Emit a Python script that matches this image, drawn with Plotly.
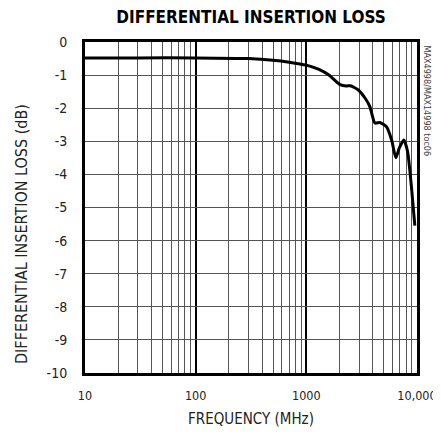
import plotly.graph_objects as go

freq_mhz = [10, 30, 100, 300, 500, 700, 1000, 1300, 1600, 2000, 2300, 2500, 2950, 3400, 3750, 4170, 4620, 5300, 5900, 6440, 6920, 7600, 8210, 8920, 9560]
loss_db = [-0.48, -0.48, -0.48, -0.5, -0.55, -0.61, -0.7, -0.83, -1.0, -1.28, -1.33, -1.32, -1.45, -1.7, -1.95, -2.45, -2.43, -2.56, -2.96, -3.5, -3.2, -2.96, -3.3, -4.4, -5.55]

x_major = [10, 100, 1000, 10000]
x_major_text = ["10", "100", "1000", "10,000"]
x_minor = [m * d for d in (10, 100, 1000) for m in range(2, 10)]
y_ticks = list(range(0, -11, -1))
y_text = [str(v) for v in y_ticks]

font_txt = "DejaVu Sans Condensed, Liberation Sans Narrow, Liberation Sans, sans-serif"

fig = go.Figure()
fig.add_trace(go.Scatter(x=freq_mhz, y=loss_db, mode="lines",
                         line=dict(color="black", width=3, shape="spline", smoothing=0.6),
                         showlegend=False, hoverinfo="skip"))

# page body has an 8px margin, so the figure is 8px smaller and offset
fig.update_layout(
    width=433, height=429,
    margin=dict(l=77, r=24, t=34, b=64, autoexpand=False),
    paper_bgcolor="white", plot_bgcolor="white",
    font=dict(family=font_txt, size=13, color="#222"),
    title=dict(text="<b>DIFFERENTIAL INSERTION LOSS</b>", xref="paper", x=0.5, xanchor="center",
               yref="container", y=0.978, yanchor="middle",
               font=dict(family="DejaVu Sans Condensed, Liberation Sans Narrow, sans-serif", size=17, color="black")),
)
fig.update_xaxes(type="log", range=[1, 4], tickvals=x_major, ticktext=x_major_text,
                 showgrid=True, gridcolor="black", gridwidth=1.6,
                 minor=dict(tickvals=x_minor, showgrid=True, gridcolor="#555", gridwidth=1, ticks=""),
                 showline=True, linecolor="black", linewidth=3, mirror=True,
                 ticks="", ticklabelstandoff=9, automargin=False, tickfont=dict(size=12.5, color="#222"),
                 title=dict(text="FREQUENCY (MHz)", font=dict(size=15, color="#222"), standoff=12),
                 zeroline=False)
fig.update_yaxes(range=[-10, 0], tickvals=y_ticks, ticktext=y_text,
                 showgrid=True, gridcolor="#555", gridwidth=1,
                 showline=True, linecolor="black", linewidth=3, mirror=True,
                 ticks="", ticklabelstandoff=12, automargin=False, tickfont=dict(size=14, color="#222"),
                 zeroline=False)
fig.add_annotation(text="DIFFERENTIAL INSERTION LOSS (dB)", xref="paper", yref="paper",
                   x=0, y=0.42, xanchor="center", yanchor="middle", xshift=-63,
                   textangle=-90, showarrow=False,
                   font=dict(family=font_txt, size=16, color="#222"))
fig.add_annotation(text="MAX4998/MAX14998 toc06", xref="paper", yref="paper",
                   x=1.0, y=1.0, xanchor="left", yanchor="top", xshift=3, yshift=-1,
                   textangle=90, showarrow=False,
                   font=dict(family=font_txt, size=9, color="#444"))

fig.write_html("out.html")
